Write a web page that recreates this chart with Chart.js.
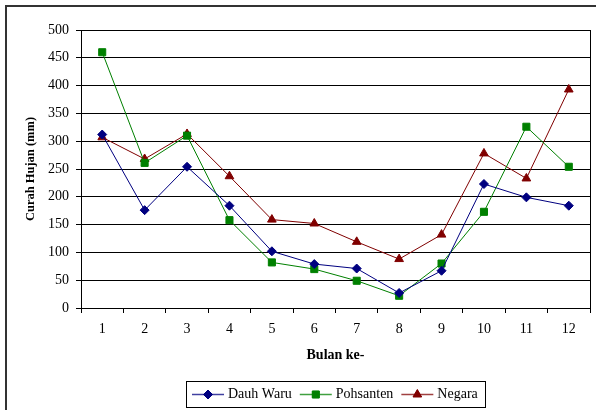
<!DOCTYPE html>
<html>
<head>
<meta charset="utf-8">
<script src="https://cdn.jsdelivr.net/npm/chart.js@4.4.1/dist/chart.umd.min.js"></script>
<style>
  html, body { margin: 0; padding: 0; background: #fff; }
  #wrap { width: 596px; height: 410px; }
</style>
</head>
<body>
<div id="wrap"><canvas id="c" width="596" height="410"></canvas></div>
<script>
// Monthly rainfall (mm) at three stations
const months = ['1', '2', '3', '4', '5', '6', '7', '8', '9', '10', '11', '12'];
const dauhWaru  = [312, 176, 254, 184, 102, 79, 71, 27, 67, 223, 199, 184];
const pohsanten = [460, 261, 310, 158, 82, 70, 49, 22, 80, 173, 326, 254];
const negara    = [307, 268, 313, 237, 159, 152, 119, 88, 132, 278, 233, 393];
const yTicks = [0, 50, 100, 150, 200, 250, 300, 350, 400, 450, 500];

const FONT = 'Liberation Serif, Times New Roman, serif';

const seriesStyle = [
  { label: 'Dauh Waru', data: dauhWaru,  color: '#000080', point: 'rectRot',  r: 4.5 },
  { label: 'Pohsanten', data: pohsanten, color: '#008000', point: 'rect',     r: 5 },
  { label: 'Negara',    data: negara,    color: '#800000', point: 'triangle', r: 5 }
];

// Frame around the whole figure, plot-area right edge and boxed legend
const decorations = {
  id: 'decorations',
  beforeDraw(chart) {
    const ctx = chart.ctx;
    ctx.save();
    ctx.fillStyle = '#fff';
    ctx.fillRect(0, 0, chart.width, chart.height);
    ctx.strokeStyle = '#333';
    ctx.lineWidth = 2;
    ctx.strokeRect(6, 6, chart.width + 10, chart.height + 10);
    ctx.restore();
  },
  afterDraw(chart) {
    const ctx = chart.ctx;
    const a = chart.chartArea;
    ctx.save();
    ctx.strokeStyle = '#000';
    ctx.lineWidth = 1;
    ctx.beginPath();
    ctx.moveTo(Math.round(a.right) + 0.5, a.top);
    ctx.lineTo(Math.round(a.right) + 0.5, a.bottom);
    ctx.stroke();

    // legend
    ctx.font = '14px ' + FONT;
    const lineLen = 32, gapLT = 4, gapItems = 8, padL = 6, padR = 7;
    let total = padL + padR;
    const widths = seriesStyle.map(s => ctx.measureText(s.label).width);
    widths.forEach((w, i) => { total += lineLen + gapLT + w + (i < widths.length - 1 ? gapItems : 0); });
    const cx = (a.left + a.right) / 2;
    const boxL = Math.round(cx - total / 2);
    const boxT = 381, boxH = 26;
    ctx.strokeStyle = '#000';
    ctx.lineWidth = 1;
    ctx.strokeRect(boxL + 0.5, boxT + 0.5, Math.round(total), boxH);
    const yMid = boxT + boxH / 2 + 0.5;
    let x = boxL + padL;
    seriesStyle.forEach((s, i) => {
      ctx.strokeStyle = s.color;
      ctx.globalAlpha = 0.75;
      ctx.lineWidth = 1.5;
      ctx.beginPath();
      ctx.moveTo(x, yMid);
      ctx.lineTo(x + lineLen, yMid);
      ctx.stroke();
      ctx.globalAlpha = 1;
      ctx.fillStyle = s.color;
      ctx.strokeStyle = s.color;
      ctx.lineWidth = 1;
      Chart.helpers.drawPoint(ctx, { pointStyle: s.point, radius: s.r, rotation: 0, borderWidth: 1 }, x + lineLen / 2, yMid);
      ctx.fill();
      ctx.fillStyle = '#000';
      ctx.textBaseline = 'middle';
      ctx.textAlign = 'left';
      ctx.fillText(s.label, x + lineLen + gapLT, yMid);
      x += lineLen + gapLT + widths[i] + gapItems;
    });
    ctx.restore();
  }
};

new Chart(document.getElementById('c'), {
  type: 'line',
  data: {
    labels: months,
    datasets: seriesStyle.map(s => ({
      label: s.label,
      data: s.data,
      borderColor: s.color,
      backgroundColor: s.color,
      borderWidth: 1,
      pointStyle: s.point,
      pointRadius: s.r,
      pointHoverRadius: s.r,
      pointBorderWidth: 1,
      tension: 0,
      fill: false
    }))
  },
  options: {
    responsive: false,
    animation: false,
    events: [],
    layout: { padding: { top: 30, right: 4, left: 0, bottom: 0 } },
    plugins: {
      legend: { display: false },
      tooltip: { enabled: false }
    },
    scales: {
      x: {
        type: 'category',
        offset: true,
        grid: { offset: true, drawOnChartArea: false, drawTicks: true, tickLength: 5, color: '#000' },
        border: { display: true, color: '#000', width: 1 },
        ticks: { color: '#000', font: { family: FONT, size: 14 }, padding: 8, maxRotation: 0 },
        title: {
          display: true, text: 'Bulan ke-', color: '#000',
          font: { family: FONT, size: 14, weight: 'bold' },
          padding: { top: 0, bottom: 46 }
        },
        afterFit(s) { s.height = 102; }
      },
      y: {
        min: 0, max: 500,
        afterBuildTicks(s) { s.ticks = yTicks.map(v => ({ value: v })); },
        grid: { color: '#000', lineWidth: 1, tickLength: 5, drawTicks: true },
        border: { display: true, color: '#000', width: 1 },
        ticks: { color: '#000', font: { family: FONT, size: 14 }, padding: 7 },
        title: {
          display: true, text: 'Curah Hujan (mm)', color: '#000',
          font: { family: FONT, size: 12.5, weight: 'bold' },
          padding: { top: 23, bottom: 0 }
        },
        afterFit(s) { s.width = 81; }
      }
    }
  },
  plugins: [decorations]
});
</script>
</body>
</html>
